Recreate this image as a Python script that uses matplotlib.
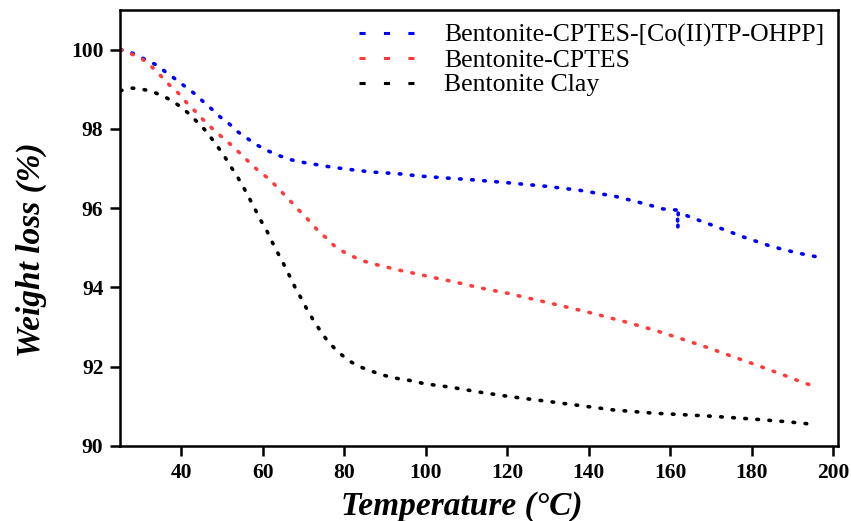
import matplotlib
matplotlib.use("Agg")
import matplotlib.pyplot as plt
from matplotlib.lines import Line2D

# TGA curves: temperature (°C) vs remaining weight (%)
labels = ["Bentonite-CPTES-[Co(II)TP-OHPP]", "Bentonite-CPTES", "Bentonite Clay"]
colors = ["#0000ff", "#ff3b3b", "#000000"]

t_cat = [25.0, 27.7, 29.6, 31.4, 33.7, 35.9, 37.8, 39.7, 41.4, 43.3, 45.3, 47.4,
         49.5, 51.9, 53.9, 56.0, 58.4, 60.9, 63.8, 66.9, 70.1, 73.0, 77.1, 80.9,
         83.4, 86.7, 89.9, 94.0, 98.4, 105.0, 112.0, 120.1, 129.6, 137.8, 146.4,
         154.5, 158.2, 161.8, 161.9, 162.0, 165.3, 171.4, 177.8, 184.4, 188.0,
         192.2, 196.6]
w_cat = [100.0, 99.92, 99.83, 99.73, 99.62, 99.45, 99.31, 99.16, 99.03, 98.88,
         98.69, 98.50, 98.30, 98.11, 97.92, 97.77, 97.60, 97.46, 97.33, 97.22,
         97.15, 97.10, 97.03, 96.98, 96.95, 96.91, 96.89, 96.86, 96.81, 96.76,
         96.71, 96.64, 96.55, 96.45, 96.30, 96.09, 95.98, 95.95, 95.47, 95.90,
         95.76, 95.53, 95.28, 95.05, 94.95, 94.85, 94.76]

t_cptes = [25.0, 26.7, 28.6, 30.5, 32.3, 33.9, 35.6, 37.2, 38.8, 41.7, 43.6, 45.4,
           47.0, 49.0, 50.6, 52.6, 54.5, 56.4, 58.6, 60.7, 62.5, 64.2, 65.7, 67.4,
           68.9, 70.5, 72.2, 73.8, 75.9, 77.9, 80.8, 83.4, 86.3, 89.7, 93.2, 97.9,
           101.4, 104.7, 108.2, 113.7, 120.2, 126.5, 132.7, 138.9, 143.1, 149.4,
           156.2, 162.6, 169.0, 175.0, 181.8, 187.9, 192.6, 196.0]
w_cptes = [100.0, 99.93, 99.85, 99.75, 99.60, 99.45, 99.26, 99.09, 98.95, 98.61,
           98.42, 98.22, 98.06, 97.88, 97.73, 97.56, 97.37, 97.18, 96.97, 96.80,
           96.63, 96.46, 96.28, 96.11, 95.94, 95.78, 95.58, 95.40, 95.22, 95.01,
           94.84, 94.72, 94.61, 94.53, 94.44, 94.34, 94.26, 94.19, 94.11, 93.98,
           93.85, 93.70, 93.55, 93.40, 93.29, 93.12, 92.92, 92.71, 92.49, 92.27,
           92.02, 91.79, 91.60, 91.49]

t_clay = [25.0, 27.4, 29.8, 32.6, 35.6, 38.0, 39.3, 41.4, 43.3, 45.2, 46.8, 48.5,
          50.3, 51.9, 53.5, 55.0, 56.4, 57.8, 59.3, 60.9, 62.3, 63.6, 65.0, 66.4,
          68.0, 69.7, 71.1, 72.6, 74.2, 76.0, 78.5, 81.1, 83.8, 86.3, 89.4, 92.6,
          96.2, 99.7, 106.3, 113.7, 121.0, 128.8, 137.8, 146.0, 155.6, 161.1,
          170.3, 180.2, 188.9, 193.8]
w_clay = [98.96, 99.03, 99.01, 98.95, 98.82, 98.69, 98.59, 98.42, 98.23, 98.04,
          97.84, 97.60, 97.35, 97.08, 96.83, 96.57, 96.30, 96.03, 95.72, 95.44,
          95.14, 94.88, 94.61, 94.32, 93.98, 93.67, 93.39, 93.14, 92.89, 92.63,
          92.37, 92.15, 92.00, 91.90, 91.79, 91.71, 91.65, 91.57, 91.48, 91.35,
          91.24, 91.14, 91.02, 90.91, 90.83, 90.80, 90.75, 90.68, 90.61, 90.56]

x_ticks = [40, 60, 80, 100, 120, 140, 160, 180, 200]
y_ticks = [90, 92, 94, 96, 98, 100]

plt.rcParams["font.family"] = ["Liberation Serif", "DejaVu Serif"]

fig = plt.figure(figsize=(8.51, 5.21), dpi=100)
ax = fig.add_axes([0.141, 0.144, 0.844, 0.837])

dots = (0, (0.45, 2.9))
for t, w, c in zip([t_cat, t_cptes, t_clay], [w_cat, w_cptes, w_clay], colors):
    ax.plot(t, w, color=c, lw=2.6, linestyle=dots, dash_capstyle="round")

ax.set_xlim(24.9, 201.3)
ax.set_ylim(90, 101)
ax.set_xticks(x_ticks)
ax.set_yticks(y_ticks)
ax.tick_params(direction="out", length=7, width=1.8, labelsize=15.5, pad=5,
               top=False, right=False)
for lab in ax.get_xticklabels() + ax.get_yticklabels():
    lab.set_fontweight("bold")
for sp in ax.spines.values():
    sp.set_linewidth(1.8)

ax.set_xlabel("Temperature (°C)", fontsize=24, fontweight="bold",
              fontstyle="italic", va="center")
ax.xaxis.set_label_coords(0.476, -0.138)
ax.set_ylabel("Weight loss (%)", fontsize=24, fontweight="bold",
              fontstyle="italic", va="center")
ax.yaxis.set_label_coords(-0.124, 0.45)

handles = [Line2D([], [], color=c, lw=2.2, linestyle=(0, (2, 6))) for c in colors]
ax.legend(handles, labels, loc="upper right", frameon=False, fontsize=18.5,
          handlelength=2.5, handletextpad=0.8, labelspacing=0.06,
          borderaxespad=0.1, borderpad=0.45)

fig.savefig("out.png", dpi=100)
